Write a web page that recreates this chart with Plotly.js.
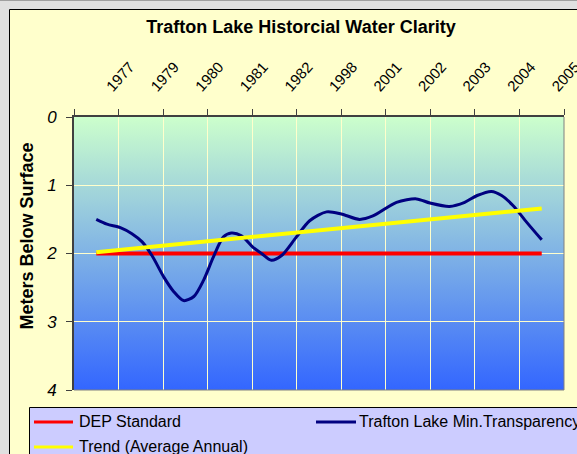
<!DOCTYPE html>
<html><head><meta charset="utf-8">
<script src="https://cdn.plot.ly/plotly-3.0.1.min.js"></script>
<style>html,body{margin:0;padding:0;overflow:hidden;background:#e0e0e0}</style>
</head><body><div id="chart" style="width:577px;height:454px"></div>
<script>
// ---- data ----
const years = ["1977","1979","1980","1981","1982","1998","2001","2002","2003","2004","2005"];
const depStandard = [2,2,2,2,2,2,2,2,2,2,2];
const trendPos = [0, 10];
const trendDepth = [1.98, 1.34];
const clarityPos = [0.00,0.24,0.54,0.80,1.03,1.25,1.52,1.74,1.96,2.19,2.41,2.63,2.85,3.03,3.26,3.52,3.71,3.93,4.16,4.49,4.79,5.17,5.50,5.91,6.21,6.74,7.19,7.49,7.93,8.27,8.55,8.87,9.10,9.36,9.66,10.00];
const clarityDepth = [1.50,1.57,1.62,1.71,1.83,2.03,2.35,2.56,2.69,2.63,2.39,2.05,1.76,1.70,1.74,1.91,2.00,2.10,2.03,1.76,1.52,1.39,1.42,1.50,1.45,1.25,1.20,1.26,1.31,1.25,1.15,1.09,1.15,1.30,1.54,1.80];
const depthTicks = [0,1,2,3,4];

// ---- layout helpers ----
const L = 74, T = 117, W = 577, H = 454, R = 13, B = 64;
const PW = W - L - R, PH = H - T - B;
const px = x => (x - L) / PW;
const py = y => 1 - (y - T) / PH;
const FONT = "Liberation Sans, Arial, sans-serif";

const catIdx = years.map((_, i) => i);
const bounds = years.map((_, i) => i - 0.5).concat([years.length - 0.5]);
const labelShift = 0.25; // rotated labels sit slightly right of the category centre

const svg = "<svg xmlns='http://www.w3.org/2000/svg' width='100' height='100' preserveAspectRatio='none'>" +
  "<defs><linearGradient id='g' x1='0' y1='0' x2='0' y2='1'>" +
  "<stop offset='0' stop-color='#CCFFCC'/><stop offset='1' stop-color='#3366FF'/>" +
  "</linearGradient></defs><rect width='100' height='100' fill='url(#g)'/></svg>";

const traces = [
  {x: catIdx, y: depStandard, name: "DEP Standard", mode: "lines",
   line: {color: "#FF0000", width: 4}, showlegend: false, hoverinfo: "skip"},
  {x: clarityPos, y: clarityDepth, name: "Trafton Lake Min.Transparency", mode: "lines",
   line: {color: "#000080", width: 3, shape: "spline", smoothing: 0.8}, showlegend: false},
  {x: trendPos, y: trendDepth, name: "Trend (Average Annual)", mode: "lines",
   line: {color: "#FFFF00", width: 4}, showlegend: false, hoverinfo: "skip"},
  // invisible trace so the top label axis is drawn
  {x: catIdx, y: depStandard, xaxis: "x2", mode: "lines", line: {width: 0},
   opacity: 0, showlegend: false, hoverinfo: "skip"}
];

const legendY1 = 421, legendY2 = 446;
const layout = {
  width: W, height: H,
  margin: {l: L, r: R, t: T, b: B},
  paper_bgcolor: "#e0e0e0",
  plot_bgcolor: "rgba(0,0,0,0)",
  font: {family: FONT, color: "#000"},
  title: {text: "Trafton Lake Historcial Water Clarity", x: 301 / W, xanchor: "center",
          xref: "container", yref: "container", y: 1 - 27 / H, yanchor: "middle",
          font: {family: FONT, size: 18, weight: "bold", color: "#000"}},
  xaxis: {range: [-0.5, years.length - 0.5], side: "top", tickmode: "array", tickvals: bounds,
          showticklabels: false, ticks: "outside", ticklen: 6, tickcolor: "#404040",
          showline: true, linecolor: "#404040", linewidth: 2,
          showgrid: true, gridcolor: "#FFFFCC", gridwidth: 1, zeroline: false, fixedrange: true},
  xaxis2: {overlaying: "x", side: "top", range: [-0.5 - labelShift, years.length - 0.5 - labelShift],
           tickmode: "array", tickvals: catIdx, ticktext: years, ticklabeloverflow: "allow",
           tickangle: -48, ticks: "", showgrid: false, zeroline: false, showline: false,
           ticklabelstandoff: 18, tickfont: {family: FONT, size: 15, color: "#000"}},
  yaxis: {range: [4, 0], tickmode: "array", tickvals: depthTicks, ticks: "outside", ticklen: 6,
          tickcolor: "#404040", showline: true, linecolor: "#404040", linewidth: 2,
          showgrid: true, gridcolor: "#FFFFCC", gridwidth: 1, zeroline: false,
          ticklabelstandoff: 6,
          tickfont: {family: FONT, size: 17, style: "italic", color: "#000"}},
  images: [{source: "data:image/svg+xml;charset=utf-8," + encodeURIComponent(svg),
            xref: "x domain", yref: "y domain", x: 0, y: 1, sizex: 1, sizey: 1,
            xanchor: "left", yanchor: "top", sizing: "stretch", layer: "below"}],
  shapes: [
    {type: "line", xref: "paper", yref: "paper", x0: px(0), x1: px(W), y0: py(0.5), y1: py(0.5),
     line: {color: "#a0a0a0", width: 1}, layer: "below"},
    {type: "rect", xref: "paper", yref: "paper", x0: px(9.5), y0: py(9.5), x1: px(W + 100), y1: py(H + 100),
     fillcolor: "#FFFFCC", line: {color: "#000", width: 1}, layer: "below"},
    {type: "line", xref: "paper", yref: "paper", x0: 1, x1: 1, y0: 0, y1: 1,
     line: {color: "#808080", width: 1}},
    {type: "line", xref: "paper", yref: "paper", x0: 0, x1: 1, y0: 0, y1: 0,
     line: {color: "#808080", width: 1}},
    {type: "rect", xref: "paper", yref: "paper", x0: px(29.5), y0: py(407.5), x1: px(W + 100), y1: py(H + 100),
     fillcolor: "#CCCCFF", line: {color: "#000", width: 1}},
    {type: "line", xref: "paper", yref: "paper", x0: px(34), x1: px(73), y0: py(legendY1 + 1), y1: py(legendY1 + 1),
     line: {color: "#FF0000", width: 3}},
    {type: "line", xref: "paper", yref: "paper", x0: px(316), x1: px(356), y0: py(legendY1 + 1), y1: py(legendY1 + 1),
     line: {color: "#000080", width: 3}},
    {type: "line", xref: "paper", yref: "paper", x0: px(34), x1: px(73), y0: py(legendY2 + 1), y1: py(legendY2 + 1),
     line: {color: "#FFFF00", width: 3}}
  ],
  annotations: [
    {text: "<b>Meters Below Surface</b>", xref: "paper", yref: "paper", x: px(26), y: py(236.5),
     textangle: -90, showarrow: false, xanchor: "center", yanchor: "middle",
     font: {family: FONT, size: 18, color: "#000"}},
    {text: "DEP Standard", xref: "paper", yref: "paper", x: px(77), y: py(legendY1),
     showarrow: false, xanchor: "left", yanchor: "middle", font: {family: FONT, size: 16, color: "#000"}},
    {text: "Trafton Lake Min.Transparency", xref: "paper", yref: "paper", x: px(357), y: py(legendY1),
     showarrow: false, xanchor: "left", yanchor: "middle", font: {family: FONT, size: 16, color: "#000"}},
    {text: "Trend (Average Annual)", xref: "paper", yref: "paper", x: px(77), y: py(legendY2),
     showarrow: false, xanchor: "left", yanchor: "middle", font: {family: FONT, size: 16, color: "#000"}}
  ],
  showlegend: false
};

Plotly.newPlot("chart", traces, layout, {staticPlot: true, displayModeBar: false});
</script></body></html>
